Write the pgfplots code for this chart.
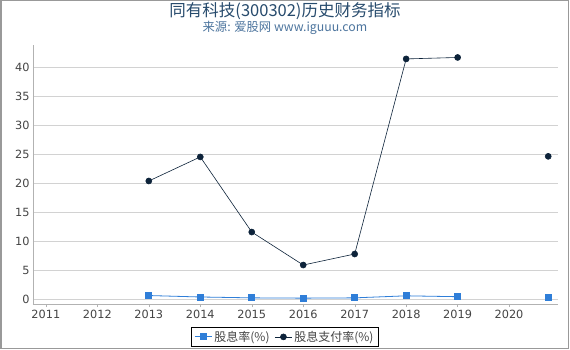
\documentclass[border=0pt]{standalone}
\usepackage{pgfplots}
\pgfplotsset{compat=1.18}
\usepackage{fontspec}
\setmainfont{DejaVu Sans}
\newfontfamily\cjk{Noto Sans CJK SC}
\definecolor{cblue}{HTML}{2F7ED8}
\definecolor{cdark}{HTML}{0D233A}
\definecolor{ctitle}{HTML}{274B6D}
\definecolor{csub}{HTML}{4D759E}
\definecolor{clab}{HTML}{444444}
\begin{document}
\begin{tikzpicture}
\useasboundingbox (0pt,0pt) rectangle (570pt,-350pt);
\fill[white] (0pt,0pt) rectangle (570pt,-350pt);
\draw[gray!80, line width=1.5pt] (0.75pt,-0.75pt) rectangle (568.5pt,-348.5pt);
\node[font=\cjk\fontsize{16.5}{18}\selectfont, text=ctitle] at (285pt,-11pt) {同有科技(300302)历史财务指标};
\node[font=\cjk\fontsize{12.3}{14}\selectfont, text=csub] at (285pt,-28pt) {来源: 爱股网 www.iguuu.com};
\begin{axis}[
  at={(33pt,-304pt)}, anchor=south west,
  scale only axis, width=525pt, height=259pt,
  xmin=2010.75, xmax=2020.95, ymin=-0.86, ymax=43.8,
  axis lines*=left,
  axis line style={gray!60},
  xtick={2011,...,2020},
  ytick={0,5,...,40},
  xticklabel style={/pgf/number format/1000 sep={}, font=\fontsize{11.3}{12}\selectfont, text=clab},
  yticklabel style={font=\fontsize{11.3}{12}\selectfont, text=clab},
  /pgf/number format/assume math mode=true,
  ymajorgrids, grid style={gray!35, line width=0.6pt},
  tick style={gray!60},
  major tick length=3pt,
  ytick style={draw=none},
  xtick align=outside,
  clip=false,
  legend style={at={(0.48,-0.127)}, anchor=center, legend columns=2, draw=black, line width=0.8pt,
    font=\cjk\fontsize{12}{13}\selectfont, text=clab, /tikz/every even column/.append style={column sep=3pt}, inner ysep=1.5pt},
  legend cell align=left,
]
\addplot[cblue, line width=0.8pt, mark=square*, mark size=3pt, mark options={fill=cblue, draw=cblue}, unbounded coords=jump]
 coordinates {(2013,0.6) (2014,0.35) (2015,0.2) (2016,0.15) (2017,0.2) (2018,0.55) (2019,0.4) (2019.5,nan) (2020.76,0.35)};
\addlegendentry{股息率(\%)}
\addplot[cdark, line width=0.6pt, mark=*, mark size=3pt, mark options={fill=cdark, draw=cdark}, unbounded coords=jump]
 coordinates {(2013,20.35) (2014,24.5) (2015,11.55) (2016,5.86) (2017,7.76) (2018,41.4) (2019,41.65) (2019.5,nan) (2020.76,24.6)};
\addlegendentry{股息支付率(\%)}
\end{axis}
\end{tikzpicture}
\end{document}
